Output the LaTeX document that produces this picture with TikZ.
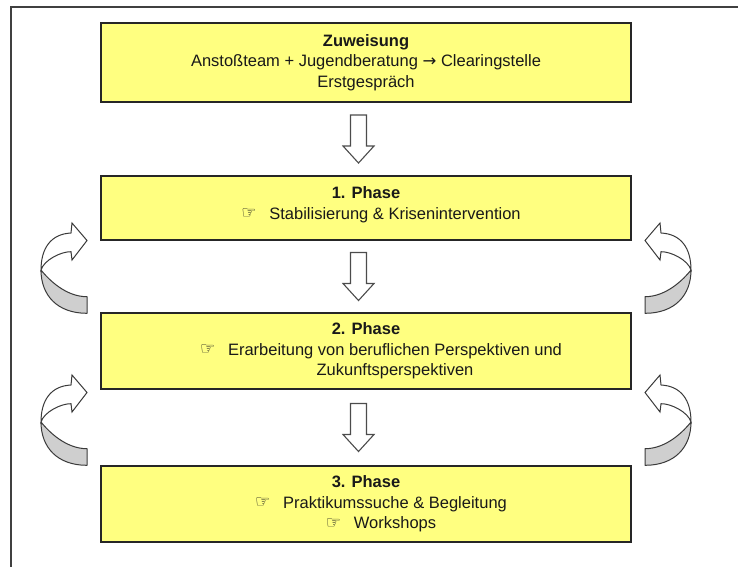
\documentclass[tikz,border=0pt]{standalone}
\usepackage{fontspec}
\setmainfont{Liberation Sans}
\newfontfamily\dejavu{DejaVu Sans}
\usetikzlibrary{calc}
\definecolor{boxyellow}{HTML}{FFFF80}
\definecolor{ribbongray}{HTML}{CFCFCF}
\definecolor{outlinegray}{HTML}{3A3A3A}
\newcommand{\handbullet}{\makebox[28pt][l]{\raisebox{0.5pt}{\dejavu\fontsize{17}{17}\selectfont ☞}}}
\tikzset{
  pics/downblock/.style={code={
    \draw[blockline] (-8,-24) -- (8,-24) -- (8,7) -- (15.5,7) -- (0,24) -- (-15.5,7) -- (-8,7) -- cycle;}},
  pics/uturn/.style={code={
    \draw[ribbonback] (0,0) .. controls (0,25) and (16,43.3) .. (46,43.3) -- (46,26.7) .. controls (25,26.7) and (8,10) .. (0,0) -- cycle;
    \draw[ribbonfront] (0,0) .. controls (0,-22) and (10,-36) .. (30,-37) -- (31,-47) -- (46,-29.5) -- (31,-10) -- (30,-18.3) .. controls (20,-18.5) and (3,-10) .. (0,0) -- cycle;}}
}
\begin{document}
\begin{tikzpicture}[x=1pt,y=-1pt,
  phasebox/.style={draw=black!85, line width=1.5pt, fill=boxyellow, minimum width=530pt, inner sep=0pt, align=center, font=\fontsize{16.5}{20.5}\selectfont, text=black!90},
  blockline/.style={draw=black!70, fill=white, line width=1.1pt, line join=miter},
  ribbonback/.style={draw=outlinegray, fill=ribbongray, line width=1pt, line join=round},
  ribbonfront/.style={draw=outlinegray, fill=white, line width=1pt, line join=miter},
  framestyle/.style={draw=black!75, line width=1.6pt}]
\useasboundingbox (0,0) rectangle (738,566);
% outer frame (top and left edges)
\draw[framestyle] (11,570) -- (11,7) -- (742,7);
% boxes
\node[phasebox, minimum height=79pt] (zw) at (366,62.5) {\textbf{Zuweisung}\\Anstoßteam + Jugendberatung {\dejavu →} Clearingstelle\\Erstgespräch};
\node[phasebox, minimum height=64pt] (ph1) at (366,208) {\textbf{1. Phase}\\\hspace*{30pt}\handbullet Stabilisierung \& Krisenintervention\rule[-10pt]{0pt}{10pt}};
\node[phasebox, minimum height=76pt] (ph2) at (366,351) {\textbf{2. Phase}\\\hspace*{30pt}\handbullet Erarbeitung von beruflichen Perspektiven und\\\hspace*{58pt}Zukunftsperspektiven};
\node[phasebox, minimum height=76pt] (ph3) at (366,504) {\textbf{3. Phase}\\\hspace*{30pt}\handbullet Praktikumssuche \& Begleitung\\\hspace*{30pt}\handbullet Workshops};
% block arrows between boxes
\pic at ($(zw.south)!0.5!(ph1.north)+(-7.5,0)$) {downblock};
\pic at ($(ph1.south)!0.5!(ph2.north)+(-7.5,0)$) {downblock};
\pic at ($(ph2.south)!0.5!(ph3.north)+(-7.5,0)$) {downblock};
% curved return arrows
\pic at (41,270) {uturn};
\pic at (41,422) {uturn};
\begin{scope}[xshift=732pt, xscale=-1, transform shape]
  \pic at (41,270) {uturn};
  \pic at (41,422) {uturn};
\end{scope}
\end{tikzpicture}
\end{document}
